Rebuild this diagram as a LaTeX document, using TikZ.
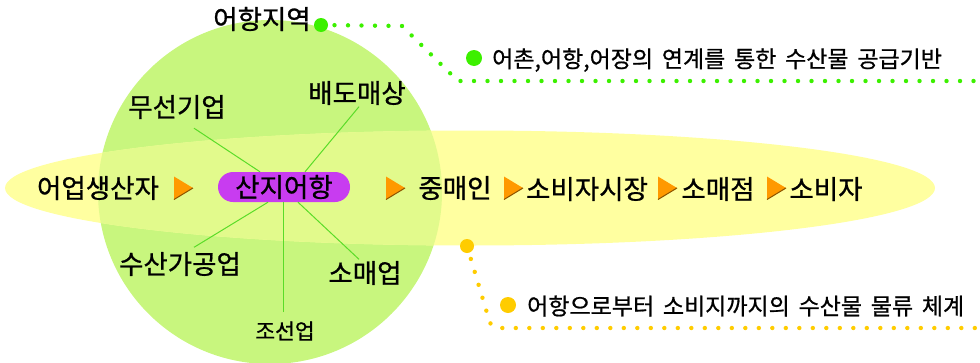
\documentclass[tikz,border=0pt]{standalone}
\usepackage{fontspec}
\setmainfont{Noto Sans CJK KR}[FakeBold=0.8]
\usetikzlibrary{positioning}
\definecolor{circgreen}{RGB}{200,246,126}
\definecolor{ellyellow}{RGB}{255,255,160}
\definecolor{mixgreen}{RGB}{226,250,140}
\definecolor{boxpurple}{RGB}{200,60,240}
\definecolor{linegreen}{RGB}{90,220,40}
\definecolor{dotgreen}{RGB}{60,240,0}
\definecolor{dotyellow}{RGB}{255,204,0}
\definecolor{triorange}{RGB}{255,153,0}
\begin{document}
\begin{tikzpicture}[x=1pt,y=-1pt,
    big/.style={inner sep=0pt,font=\fontsize{26.5}{26.5}\selectfont},
    small/.style={inner sep=0pt,font=\fontsize{23}{23}\selectfont},
    note/.style={small,anchor=west,execute at begin node={\spaceskip=0.38em\relax}},
    spoke/.style={draw=linegreen,line width=1pt},
    bullet/.style={circle,inner sep=0pt,minimum size=#1},
    dots/.style={line width=4.4pt,line cap=round,dash pattern=on 0pt off 13.5pt}]
    \useasboundingbox (0,0) rectangle (980,362);
    % circle and ellipse
    \fill[circgreen] (270,192) circle (172);
    \fill[ellyellow] (470,188) ellipse (465 and 57.5);
    \begin{scope}
        \clip (270,192) circle (172);
        \fill[mixgreen] (470,188) ellipse (465 and 57.5);
    \end{scope}
    % upper note
    \node[big] (region) at (262,19) {어항지역};
    \node[bullet=14pt,fill=dotgreen] (rdot) at (321,25) {};
    \coordinate (gend) at (980,81);
    \draw[dots,dotgreen] (rdot.center) -- (402,26) -- (458,81) -- (gend);
    \node[bullet=16pt,fill=dotgreen] (gdot) at (474,58) {};
    \node[note] (gtext) at (492,60) {어촌,어항,어장의 연계를 통한 수산물 공급기반};
    % lower note
    \node[bullet=14pt,fill=dotyellow] (ydot) at (467,246) {};
    \coordinate (yend) at (980,328);
    \draw[dots,dotyellow] (ydot.center) -- (490,323) -- (496,328) -- (yend);
    \node[bullet=16pt,fill=dotyellow] (ydot2) at (508,305) {};
    \node[note] (ytext) at (527,306) {어항으로부터 소비지까지의 수산물 물류 체계};
    % port and its trades
    \node[big] (wireless) at (177,107) {무선기업};
    \node[big] (whole) at (357,93) {배도매상};
    \node[big] (proc) at (180,264) {수산가공업};
    \node[big] (retail) at (365,273) {소매업};
    \node[small,font=\fontsize{21.5}{21.5}\selectfont] (ship) at (285,331) {조선업};
    \node[big,fill=boxpurple,rounded corners=15pt,minimum width=132pt,minimum height=30pt] (port) at (284,187) {산지어항};
    \draw[spoke] ([shift={(17,9)}]wireless.south) -- ([xshift=-24pt]port.north);
    \draw[spoke] ([shift={(2,1.5)}]whole.south) -- ([xshift=21pt]port.north);
    \draw[spoke] ([shift={(14,-4.5)}]proc.north) -- ([xshift=-16pt]port.south);
    \draw[spoke] ([shift={(-2,-9)}]ship.north) -- ([xshift=-1pt]port.south);
    \draw[spoke] ([shift={(-6,-1.5)}]retail.north) -- ([xshift=14pt]port.south);
    % supply chain
    \node[big] (fisher) at (98,188) {어업생산자};
    \node[big] (broker) at (455,188) {중매인};
    \node[big] (market) at (587,189) {소비자시장};
    \node[big] (shop) at (718,189) {소매점};
    \node[big] (consumer) at (826,189) {소비자};
    \foreach \x in {183,395,513,667,776}{
        \fill[triorange] (\x-9,176.5) -- (\x+10,188) -- (\x-9,199.5) -- cycle;
        \draw[triorange!55!black,line width=1pt] (\x+10,188) -- (\x-9,199.5);
    }
\end{tikzpicture}
\end{document}
